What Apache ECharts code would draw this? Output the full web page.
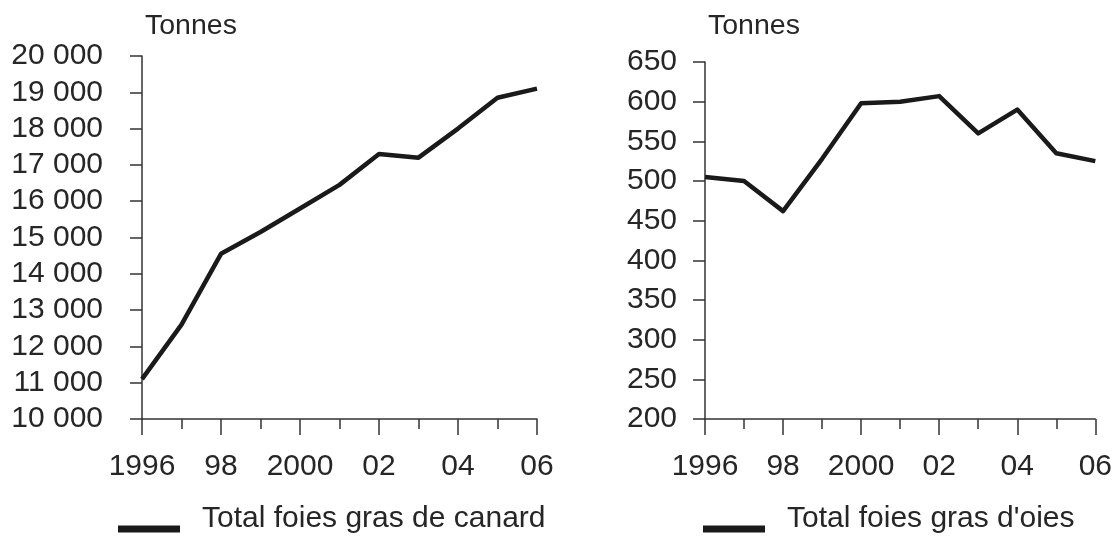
<!DOCTYPE html>
<html>
<head>
<meta charset="utf-8">
<script src="https://cdn.jsdelivr.net/npm/echarts@6/dist/echarts.min.js"></script>
<style>
html,body{margin:0;padding:0;background:#fff;}
#chart{width:1115px;height:536px;}
</style>
</head>
<body>
<div id="chart"></div>
<script>
// ---- Data ----
const years = [1996, 1997, 1998, 1999, 2000, 2001, 2002, 2003, 2004, 2005, 2006];
const canard = [11100, 12600, 14550, 15150, 15800, 16450, 17300, 17200, 18000, 18850, 19100];
const oies = [505, 500, 462, 528, 598, 600, 607, 560, 590, 535, 525];
const xTickLabels = ['1996', '98', '2000', '02', '04', '06'];
const unitLabel = 'Tonnes';
const seriesNames = ['Total foies gras de canard', "Total foies gras d'oies"];

const FONT = '"Liberation Sans", Arial, sans-serif';
const TXT = '#262626';
const AX = '#333333';
const LINE = '#1a1a1a';

function pairs(vals) { return years.map((y, i) => [y, vals[i]]); }
function spaceThousands(v) {
  const s = String(Math.round(v));
  return s.replace(/\B(?=(\d{3})+(?!\d))/g, ' ');
}
function xAxisCfg(gridIndex) {
  return {
    type: 'value', gridIndex: gridIndex, min: 1996, max: 2006, interval: 2,
    axisLine: { show: true, lineStyle: { color: AX, width: 1.5 } },
    axisTick: { show: true, length: 16, lineStyle: { color: AX, width: 1.5 } },
    minorTick: { show: true, splitNumber: 2, length: 10, lineStyle: { color: AX, width: 1.5 } },
    splitLine: { show: false },
    axisLabel: {
      color: TXT, fontFamily: FONT, fontSize: 30, margin: 33,
      formatter: v => xTickLabels[Math.round((v - 1996) / 2)]
    }
  };
}
function yAxisCfg(gridIndex, min, max, interval, margin, fmt) {
  return {
    type: 'value', gridIndex: gridIndex, min: min, max: max, interval: interval,
    axisLine: { show: true, lineStyle: { color: AX, width: 1.5 } },
    axisTick: { show: true, length: 12, lineStyle: { color: AX, width: 1.5 } },
    splitLine: { show: false },
    axisLabel: { color: TXT, fontFamily: FONT, fontSize: 30, margin: margin, formatter: fmt }
  };
}
const legendIcon = 'path://M0,0L0.01,0M0,20L62,20L62,27L0,27Z';
function legendCfg(name, left) {
  return {
    data: [name], left: left, top: 504, padding: 0, icon: legendIcon,
    itemWidth: 62, itemHeight: 27, itemGap: 0,
    textStyle: { color: TXT, fontFamily: FONT, fontSize: 30, padding: [0, 0, 0, 17] }
  };
}

const chart = echarts.init(document.getElementById('chart'), null, { renderer: 'canvas' });
chart.setOption({
  backgroundColor: '#ffffff',
  animation: false,
  grid: [
    { left: 142, top: 56, width: 395, height: 363 },
    { left: 705, top: 62, width: 391, height: 357 }
  ],
  xAxis: [xAxisCfg(0), xAxisCfg(1)],
  yAxis: [
    yAxisCfg(0, 10000, 20000, 1000, 39, v => spaceThousands(v)),
    yAxisCfg(1, 200, 650, 50, 28, v => String(v))
  ],
  graphic: [
    { type: 'text', left: 145, top: 12, style: { text: unitLabel, fill: TXT, font: '28.5px ' + FONT } },
    { type: 'text', left: 708, top: 12, style: { text: unitLabel, fill: TXT, font: '28.5px ' + FONT } }
  ],
  legend: [legendCfg(seriesNames[0], 118), legendCfg(seriesNames[1], 703)],
  series: [
    {
      name: seriesNames[0], type: 'line', xAxisIndex: 0, yAxisIndex: 0,
      data: pairs(canard), showSymbol: false, symbol: 'none',
      lineStyle: { color: LINE, width: 4.5, join: 'round' }, itemStyle: { color: LINE }
    },
    {
      name: seriesNames[1], type: 'line', xAxisIndex: 1, yAxisIndex: 1,
      data: pairs(oies), showSymbol: false, symbol: 'none',
      lineStyle: { color: LINE, width: 4.5, join: 'round' }, itemStyle: { color: LINE }
    }
  ]
});
</script>
</body>
</html>
